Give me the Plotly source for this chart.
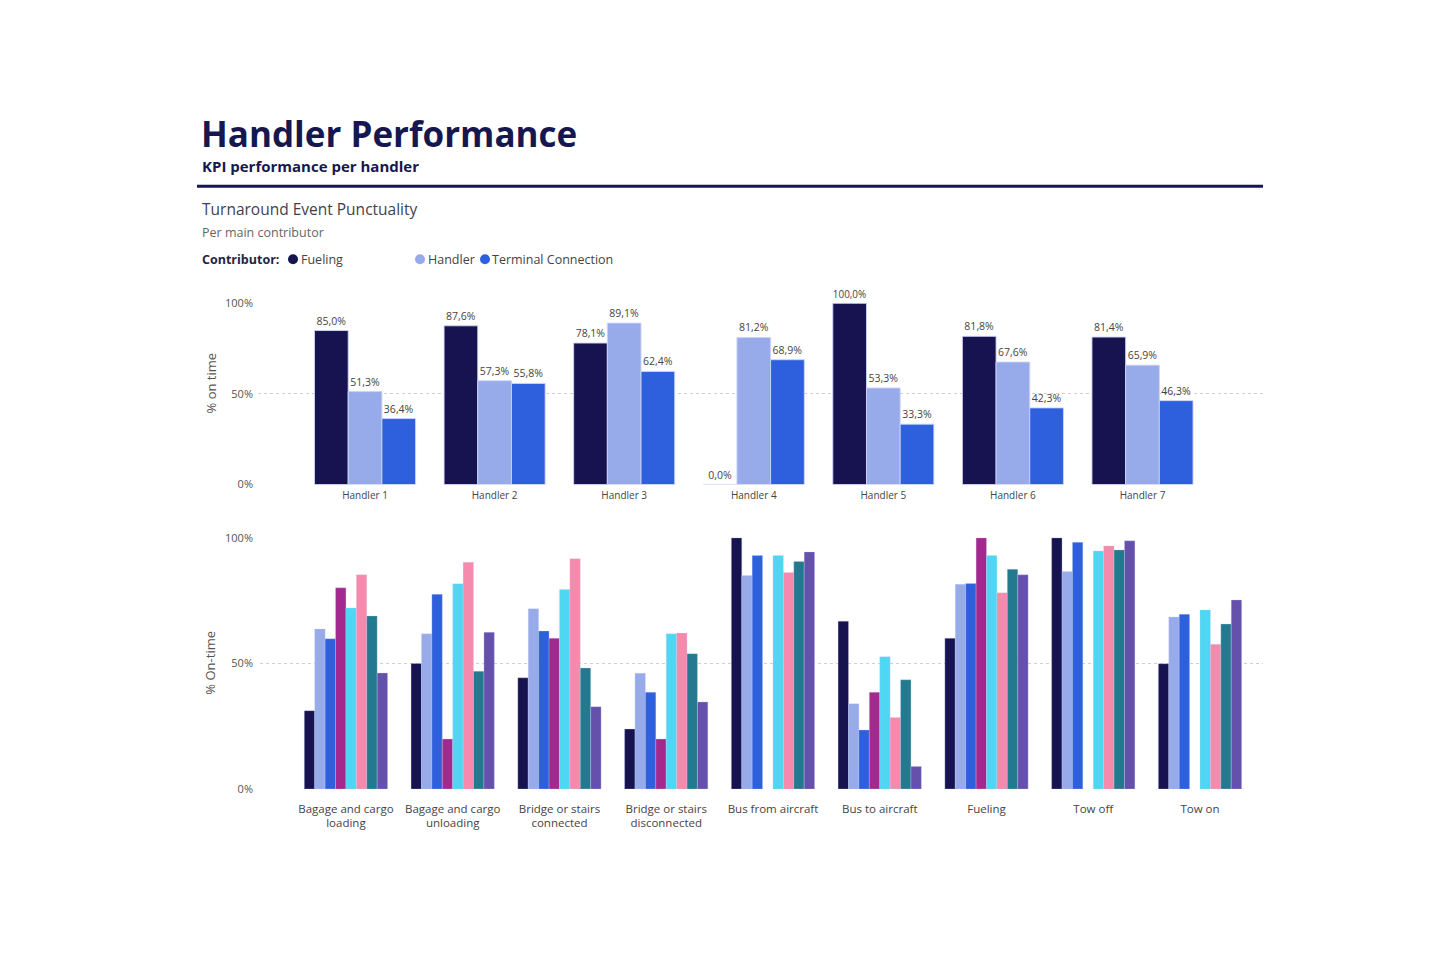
import plotly.graph_objects as go

# ---------------- data ----------------
handlers = ["Handler 1", "Handler 2", "Handler 3", "Handler 4", "Handler 5", "Handler 6", "Handler 7"]
contributors = ["Fueling", "Handler", "Terminal Connection"]
fueling = [85.0, 87.6, 78.1, 0.0, 100.0, 81.8, 81.4]
handler_vals = [51.3, 57.3, 89.1, 81.2, 53.3, 67.6, 65.9]
terminal = [36.4, 55.8, 62.4, 68.9, 33.3, 42.3, 46.3]

events = ["Bagage and cargo<br>loading", "Bagage and cargo<br>unloading", "Bridge or stairs<br>connected",
          "Bridge or stairs<br>disconnected", "Bus from aircraft", "Bus to aircraft", "Fueling",
          "Tow off", "Tow on"]
series_names = ["Handler 1", "Handler 2", "Handler 3", "Handler 4", "Handler 5", "Handler 6", "Handler 7", "Handler 8"]
h1 = [31.2, 50.0, 44.3, 23.9, 100.0, 66.8, 60.0, 100.0, 49.9]
h2 = [63.7, 61.8, 71.8, 46.1, 85.0, 34.0, 81.5, 86.6, 68.5]
h3 = [59.8, 77.5, 62.9, 38.5, 93.0, 23.5, 81.8, 98.2, 69.6]
h4 = [80.1, 19.9, 60.0, 19.9, None, 38.5, 100.0, None, None]
h5 = [72.1, 81.7, 79.4, 61.8, 93.0, 52.7, 93.0, 94.8, 71.3]
h6 = [85.3, 90.3, 91.7, 62.1, 86.2, 28.5, 78.1, 96.8, 57.6]
h7 = [68.9, 46.9, 48.2, 53.9, 90.6, 43.5, 87.5, 95.2, 65.7]
h8 = [46.2, 62.4, 32.8, 34.7, 94.4, 9.0, 85.3, 98.8, 75.3]
bottom_series = [h1, h2, h3, h4, h5, h6, h7, h8]

y_ticks = [0, 50, 100]
y_tick_labels = ["0%", "50%", "100%"]

# ---------------- style ----------------
top_colors = ["#171350", "#97aaea", "#2e5fdd"]
bottom_colors = ["#171350", "#97aaea", "#2e5fdd", "#a3298f", "#4fd6f2", "#f58aac", "#25798f", "#6551ab"]
FONT = "Open Sans"
NAVY = "#17174f"
W, H = 1440, 960
YS, YOFF = 0.9836, 8.0  # vertical mapping of the captured page


def px_x(x):
    return x / W


def px_y(y):
    return 1 - (y / YS - YOFF) / H


def fmt(v):
    return f"{v:.1f}%".replace(".", ",")


fig = go.Figure()

for name, vals, col in zip(contributors, [fueling, handler_vals, terminal], top_colors):
    fig.add_trace(go.Bar(
        x=handlers, y=vals, name=name, marker=dict(color=col, line=dict(color="rgba(205,212,245,0.9)", width=1)),
        text=[fmt(v) for v in vals], textposition="outside", cliponaxis=False,
        textfont=dict(family=FONT, size=10.5, color="#444444"),
        xaxis="x", yaxis="y", showlegend=False))

for name, vals, col in zip(series_names, bottom_series, bottom_colors):
    fig.add_trace(go.Bar(
        x=events, y=vals, name=name, marker=dict(color=col, line=dict(color="rgba(205,212,245,0.6)", width=0.5)),
        xaxis="x2", yaxis="y2", showlegend=False))

grid = dict(showgrid=True, gridcolor="#cfcfcf", griddash="dot", gridwidth=1)

fig.update_layout(
    width=W, height=H,
    margin=dict(l=0, r=0, t=0, b=0),
    paper_bgcolor="white", plot_bgcolor="white",
    barmode="group", bargap=0.22, bargroupgap=0,
    font=dict(family=FONT, color="#444444"),
    xaxis=dict(domain=[px_x(258), px_x(1263)], range=[-0.826, 6.93], showgrid=False, showline=False,
               zeroline=False, ticks="", tickfont=dict(family=FONT, size=10, color="#444444"),
               anchor="y", ticklabelstandoff=3),
    yaxis=dict(domain=[px_y(484), px_y(303)], range=[0, 100], tickvals=y_ticks, ticktext=y_tick_labels,
               showline=False, zeroline=False, ticks="", tickfont=dict(family=FONT, size=11, color="#555555"),
               anchor="x", ticklabelstandoff=4, **grid),
    xaxis2=dict(domain=[px_x(260), px_x(1263)], range=[-0.805, 8.59], showgrid=False, showline=False,
                zeroline=False, ticks="", tickfont=dict(family=FONT, size=11.5, color="#444444"),
                anchor="y2", ticklabelstandoff=11),
    yaxis2=dict(domain=[px_y(788.3), px_y(537.3)], range=[0, 100], tickvals=y_ticks, ticktext=y_tick_labels,
                showline=False, zeroline=False, ticks="", tickfont=dict(family=FONT, size=11, color="#555555"),
                anchor="x2", ticklabelstandoff=6, **grid),
)

annotations = [
    dict(text="<b>Handler Performance</b>", x=px_x(199), y=px_y(133), xanchor="left", yanchor="middle",
         font=dict(family=FONT, size=35, color=NAVY)),
    dict(text="<b>KPI performance per handler</b>", x=px_x(200), y=px_y(166), xanchor="left", yanchor="middle",
         font=dict(family=FONT, size=15, color=NAVY)),
    dict(text="Turnaround Event Punctuality", x=px_x(200), y=px_y(209), xanchor="left", yanchor="middle",
         font=dict(family=FONT, size=15.5, color="#3f3f4f")),
    dict(text="Per main contributor", x=px_x(200), y=px_y(232), xanchor="left", yanchor="middle",
         font=dict(family=FONT, size=12.5, color="#666666")),
    dict(text="<b>Contributor:</b>", x=px_x(200), y=px_y(259), xanchor="left", yanchor="middle",
         font=dict(family=FONT, size=12.5, color="#252540")),
    dict(text="Fueling", x=px_x(299), y=px_y(259), xanchor="left", yanchor="middle",
         font=dict(family=FONT, size=12.5, color="#444444")),
    dict(text="Handler", x=px_x(426), y=px_y(259), xanchor="left", yanchor="middle",
         font=dict(family=FONT, size=12.5, color="#444444")),
    dict(text="Terminal Connection", x=px_x(490), y=px_y(259), xanchor="left", yanchor="middle",
         font=dict(family=FONT, size=12.5, color="#444444")),
    dict(text="% on time", x=px_x(211), y=px_y(383), xanchor="center", yanchor="middle", textangle=-90,
         font=dict(family=FONT, size=13, color="#555555")),
    dict(text="% On-time", x=px_x(210), y=px_y(662), xanchor="center", yanchor="middle", textangle=-90,
         font=dict(family=FONT, size=13, color="#555555")),
]
for a in annotations:
    a.update(xref="paper", yref="paper", showarrow=False)
fig.update_layout(annotations=annotations)

shapes = [
    dict(type="line", xref="paper", yref="paper", x0=px_x(197), x1=px_x(1263), y0=px_y(186), y1=px_y(186),
         line=dict(color=NAVY, width=3)),
]
for cx, col in zip([293, 420, 485], top_colors):
    shapes.append(dict(type="circle", xref="paper", yref="paper",
                       x0=px_x(cx - 5), x1=px_x(cx + 5), y0=px_y(264), y1=px_y(254),
                       fillcolor=col, line=dict(width=0)))
fig.update_layout(shapes=shapes)

fig.write_html("out.html")
